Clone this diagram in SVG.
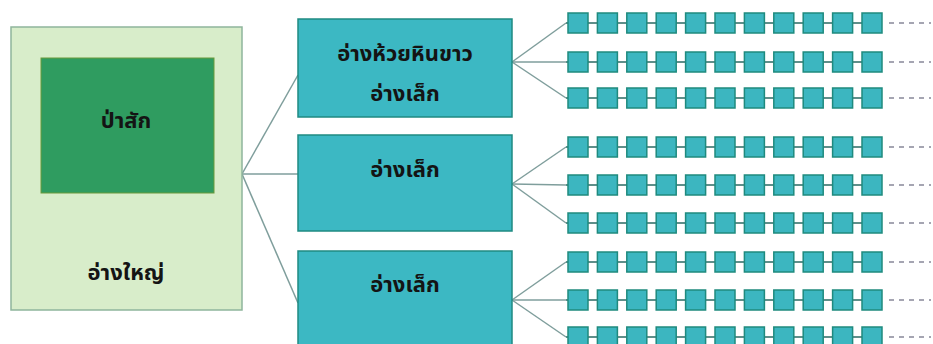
<svg xmlns="http://www.w3.org/2000/svg" width="933" height="344" viewBox="0 0 933 344">
<defs>
<style>
.lbl{font-family:"Noto Sans Thai","Noto Sans","DejaVu Sans",sans-serif;font-weight:bold;font-size:22px;fill:#141414;text-anchor:middle}
.mid{fill:#3cb8c3;stroke:#1f8a82;stroke-width:1.5}
.sq{fill:#3cb6c0;stroke:#1f8a7e;stroke-width:1.5}
.conn{stroke:#7f9e9c;stroke-width:1.5;fill:none}
.chain{stroke:#5f8f8a;stroke-width:2;fill:none}
.dash{stroke:#889;stroke-width:1.5;stroke-dasharray:5,5;fill:none}
</style>
<g id="row">
<line class="chain" x1="566" y1="0" x2="882" y2="0"/>
<rect class="sq" x="568" y="-10" width="20" height="20"/>
<rect class="sq" x="597.4" y="-10" width="20" height="20"/>
<rect class="sq" x="626.8" y="-10" width="20" height="20"/>
<rect class="sq" x="656.2" y="-10" width="20" height="20"/>
<rect class="sq" x="685.6" y="-10" width="20" height="20"/>
<rect class="sq" x="715" y="-10" width="20" height="20"/>
<rect class="sq" x="744.4" y="-10" width="20" height="20"/>
<rect class="sq" x="773.8" y="-10" width="20" height="20"/>
<rect class="sq" x="803.2" y="-10" width="20" height="20"/>
<rect class="sq" x="832.6" y="-10" width="20" height="20"/>
<rect class="sq" x="862" y="-10" width="20" height="20"/>
<line class="dash" x1="889" y1="0" x2="931" y2="0"/>
</g>
</defs>
<rect width="933" height="344" fill="#ffffff"/>
<g id="connectors">
<line class="conn" x1="242" y1="174" x2="298" y2="75"/>
<line class="conn" x1="242" y1="174" x2="298" y2="174"/>
<line class="conn" x1="242" y1="174" x2="298" y2="303"/>
<line class="conn" x1="512" y1="62" x2="566" y2="23"/>
<line class="conn" x1="512" y1="62" x2="566" y2="62"/>
<line class="conn" x1="512" y1="62" x2="566" y2="98"/>
<line class="conn" x1="512" y1="184" x2="566" y2="147"/>
<line class="conn" x1="512" y1="184" x2="566" y2="185"/>
<line class="conn" x1="512" y1="184" x2="566" y2="223"/>
<line class="conn" x1="512" y1="300" x2="566" y2="262"/>
<line class="conn" x1="512" y1="300" x2="566" y2="300"/>
<line class="conn" x1="512" y1="300" x2="566" y2="337"/>
</g>
<g id="big-reservoir">
<rect x="11" y="27" width="231" height="283" fill="#d8edca" stroke="#8fb59c" stroke-width="1.5"/>
<text class="lbl" x="126" y="280">อ่างใหญ่</text>
</g>
<g id="forest">
<rect x="41" y="58" width="173" height="135" fill="#2f9c60" stroke="#6a9a3a" stroke-width="1"/>
<text class="lbl" x="126" y="128">ป่าสัก</text>
</g>
<g id="box1">
<rect class="mid" x="298" y="19" width="214" height="98"/>
<text class="lbl" x="405" y="61">อ่างห้วยหินขาว</text>
<text class="lbl" x="405" y="101">อ่างเล็ก</text>
</g>
<g id="box2">
<rect class="mid" x="298" y="135" width="214" height="96"/>
<text class="lbl" x="405" y="177">อ่างเล็ก</text>
</g>
<g id="box3">
<rect class="mid" x="298" y="251" width="214" height="100"/>
<text class="lbl" x="405" y="292">อ่างเล็ก</text>
</g>
<g id="chain-rows">
<use href="#row" y="23"/>
<use href="#row" y="62"/>
<use href="#row" y="98"/>
<use href="#row" y="147"/>
<use href="#row" y="185"/>
<use href="#row" y="223"/>
<use href="#row" y="262"/>
<use href="#row" y="300"/>
<use href="#row" y="337"/>
</g>
</svg>
